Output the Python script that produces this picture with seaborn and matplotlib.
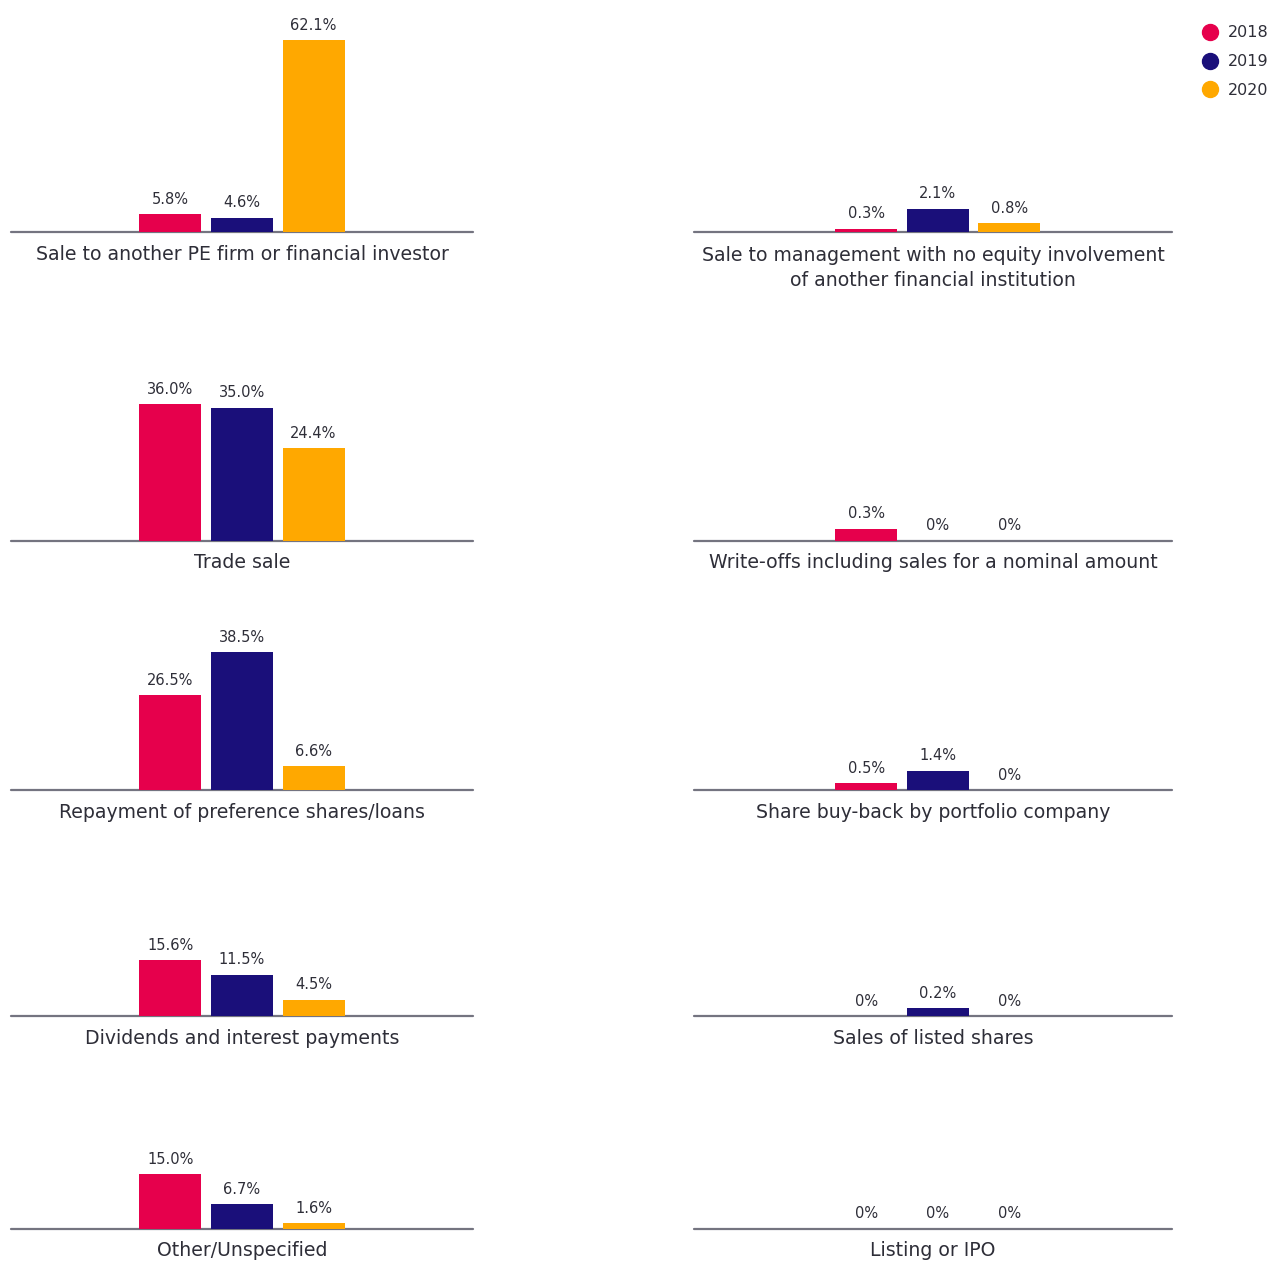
import matplotlib
matplotlib.use("Agg")
import matplotlib.pyplot as plt
from matplotlib.lines import Line2D
import pandas as pd
import seaborn as sns

# data
years = ["2018", "2019", "2020"]
left_categories = [
    "Sale to another PE firm or financial investor",
    "Trade sale",
    "Repayment of preference shares/loans",
    "Dividends and interest payments",
    "Other/Unspecified",
]
left_2018 = [5.8, 36.0, 26.5, 15.6, 15.0]
left_2019 = [4.6, 35.0, 38.5, 11.5, 6.7]
left_2020 = [62.1, 24.4, 6.6, 4.5, 1.6]

right_categories = [
    "Sale to management with no equity involvement\nof another financial institution",
    "Write-offs including sales for a nominal amount",
    "Share buy-back by portfolio company",
    "Sales of listed shares",
    "Listing or IPO",
]
right_2018 = [0.3, 0.3, 0.5, 0.0, 0.0]
right_2019 = [2.1, 0.0, 1.4, 0.2, 0.0]
right_2020 = [0.8, 0.0, 0.0, 0.0, 0.0]

colors = ["#E6004C", "#1A0F7A", "#FFA800"]
text_color = "#2E2E38"
line_color = "#747480"

sns.set_style("white")
plt.rcParams["font.family"] = ["DejaVu Sans"]

W, H = 1271, 1261
fig = plt.figure(figsize=(W / 100, H / 100), dpi=100)

baselines = [232, 541, 790, 1016, 1229]
left_max_px = [192, 137, 138, 56, 55]
right_max_px = [23, 12, 19, 8, 0]
ax_h = 200


def panel(x0, width, base, max_px, title, vals, xlim):
    ax = fig.add_axes([x0 / W, 1 - base / H, width / W, ax_h / H])
    df = pd.DataFrame({"year": years, "value": vals})
    sns.barplot(data=df, x="year", y="value", hue="year", order=years,
                hue_order=years, palette=colors, width=0.867, legend=False,
                saturation=1, linewidth=0, ax=ax, zorder=3)
    top = max(vals)
    if top > 0:
        ax.set_ylim(0, top * ax_h / max_px)
    else:
        ax.set_ylim(0, 1)
    ax.set_xlim(*xlim)
    ax.set_axis_off()
    ax.axhline(0, color=line_color, lw=1.6, zorder=1, clip_on=False)
    for i, v in enumerate(vals):
        lab = "0%" if v == 0 else f"{v:.1f}%"
        ax.annotate(lab, xy=(i, v), xytext=(0, 15), textcoords="offset pixels",
                    ha="center", va="center", fontsize=10.5, color=text_color,
                    annotation_clip=False)
    nlines = title.count("\n") + 1
    ax.annotate(title, xy=(0.5, 0), xycoords="axes fraction",
                xytext=(0, -22 - 14 * (nlines - 1)), textcoords="offset pixels",
                ha="center", va="center", fontsize=13.6, color=text_color,
                linespacing=1.45, annotation_clip=False)


for r in range(5):
    panel(11, 462, baselines[r], left_max_px[r], left_categories[r],
          [left_2018[r], left_2019[r], left_2020[r]], (-2.23, 4.23))
    panel(694, 478, baselines[r], right_max_px[r], right_categories[r],
          [right_2018[r], right_2019[r], right_2020[r]], (-2.41, 4.28))

handles = [Line2D([], [], marker="o", ls="", markersize=11.5,
                  markerfacecolor=c, markeredgecolor=c) for c in colors]
leg = fig.legend(handles, years, loc="upper left",
                 bbox_to_anchor=(1194 / W, 1 - 19 / H), frameon=False,
                 fontsize=11.5, handletextpad=0.55, labelspacing=0.86,
                 borderaxespad=0, handlelength=1.2)
for t in leg.get_texts():
    t.set_color(text_color)

fig.savefig("out.png", dpi=100, facecolor="white")
